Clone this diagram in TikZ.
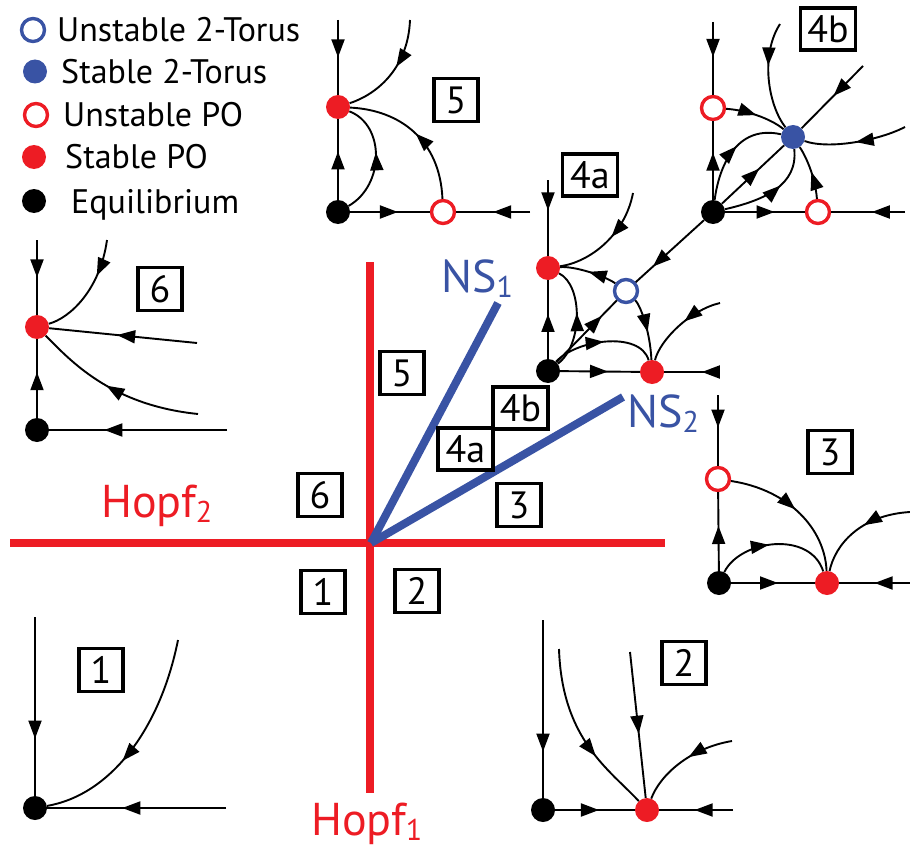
\documentclass[tikz,border=0pt]{standalone}
\usepackage{fontspec}
\setmainfont{PT Sans}
\usetikzlibrary{decorations.markings,arrows.meta}
\definecolor{hred}{RGB}{237,28,36}
\definecolor{nsblue}{RGB}{57,83,164}
\begin{document}
\begin{tikzpicture}[x=1pt,y=-1pt,
 >={Triangle[length=18pt,width=13pt]},
 traj/.style={line width=1.9pt,black},
 ma/.style={postaction={decorate},decoration={markings,mark=at position #1 with {\arrow{>}}}},
 eqpt/.style={circle,fill=black,minimum size=24pt,inner sep=0},
 spo/.style={circle,fill=hred,minimum size=24pt,inner sep=0},
 upo/.style={circle,draw=hred,line width=3.4pt,fill=white,minimum size=23pt,inner sep=0},
 stor/.style={circle,fill=nsblue,minimum size=24pt,inner sep=0},
 utor/.style={circle,draw=nsblue,line width=3.4pt,fill=white,minimum size=23pt,inner sep=0},
 rbox/.style={draw,line width=3.2pt,minimum width=44pt,minimum height=43pt,inner sep=0,font=\fontsize{38}{38}\selectfont},
 wbox/.style={rbox,minimum width=55pt,minimum height=42pt},
 leg/.style={anchor=base west,inner sep=0,font=\fontsize{34}{34}\selectfont},
 big/.style={anchor=base west,inner sep=0,font=\fontsize{46}{46}\selectfont},
]
\useasboundingbox (0,0) rectangle (910,848);

% ---------- Legend ----------
\node[utor] (lg1) at (33,30) {};
\node[leg] (lt1) at (57,42) {Unstable 2-Torus};
\node[stor] (lg2) at (35,71.5) {};
\node[leg] (lt2) at (61,84) {Stable 2-Torus};
\node[upo] (lg3) at (36,115) {};
\node[leg] (lt3) at (63,127) {Unstable PO};
\node[spo] (lg4) at (34,157) {};
\node[leg] (lt4) at (65,168) {Stable PO};
\node[eqpt] (lg5) at (34,201) {};
\node[leg] (lt5) at (71,213) {Equilibrium};

% ---------- Central bifurcation diagram ----------
\coordinate (O) at (371,543);
\coordinate (h1t) at (370,262);
\coordinate (h1b) at (370,793);
\coordinate (h2l) at (10,543);
\coordinate (h2r) at (665,543);
\coordinate (ns1e) at (498,303);
\coordinate (ns2e) at (623,397);
\draw[hred,line width=8pt] (h1t) -- (h1b);
\draw[hred,line width=8pt] (h2l) -- (h2r);
\draw[nsblue,line width=8pt] (O) -- (ns1e);
\draw[nsblue,line width=8pt] (O) -- (ns2e);
\node[big,text=nsblue] (ns1) at (441,292) {NS\raisebox{-5pt}{\fontsize{30}{30}\selectfont 1}};
\node[big,text=nsblue] (ns2) at (627,427) {NS\raisebox{-5pt}{\fontsize{30}{30}\selectfont 2}};
\node[big,text=hred] (hopf2) at (101,517) {Hopf\raisebox{-5pt}{\fontsize{30}{30}\selectfont 2}};
\node[big,text=hred] (hopf1) at (311,835) {Hopf\raisebox{-5pt}{\fontsize{30}{30}\selectfont 1}};
\node[rbox] (bx5) at (402,373) {5};
\node[wbox] (bx4b) at (520.5,408) {4b};
\node[wbox] (bx4a) at (465.5,449) {4a};
\node[rbox] (bx6) at (320,495) {6};
\node[rbox] (bx3) at (519,505) {3};
\node[rbox] (bx1) at (323,592) {1};
\node[rbox] (bx2) at (417,591) {2};

% ---------- Panel 5 ----------
\node[eqpt] (b5) at (338,212) {};
\node[spo] (s5) at (338,107) {};
\node[upo] (u5) at (443,212) {};
\coordinate (t5) at (338,20);
\coordinate (r5) at (530,212);
\coordinate (c5) at (410,20);
\draw[traj,ma=0.5] (t5) -- (s5);
\draw[traj,ma=0.6] (b5) -- (s5);
\draw[traj,ma=0.6] (b5) -- (u5);
\draw[traj,ma=0.5] (r5) -- (u5);
\draw[traj,ma=0.45] (c5) .. controls (408,70) and (375,95) .. (s5);
\draw[traj,ma=0.55] (b5) .. controls (385,185) and (385,125) .. (s5);
\draw[traj,ma=0.5] (u5) .. controls (440,140) and (400,110) .. (s5);
\node[rbox] (bx5p) at (456,100) {5};

% ---------- Panel 4b ----------
\node[eqpt] (b4b) at (713,212) {};
\node[upo] (ov4b) at (713,108) {};
\node[upo] (oh4b) at (818,212) {};
\node[stor] (t4b) at (793,137) {};
\coordinate (tv4b) at (713,22);
\coordinate (rh4b) at (905,212);
\coordinate (d4b) at (863,66);
\coordinate (c4b) at (780,24);
\coordinate (rc4b) at (905,127);
\draw[traj,ma=0.48] (tv4b) -- (ov4b);
\draw[traj,ma=0.6] (b4b) -- (ov4b);
\draw[traj,ma=0.62] (b4b) -- (oh4b);
\draw[traj,ma=0.45] (rh4b) -- (oh4b);
\draw[traj,ma=0.48] (d4b) -- (t4b);
\draw[traj,ma=0.6] (b4b) -- (t4b);
\draw[traj,ma=0.4] (c4b) .. controls (760,55) and (768,105) .. (t4b);
\draw[traj,ma=0.5] (ov4b) .. controls (745,110) and (770,118) .. (t4b);
\draw[traj,ma=0.5] (rc4b) .. controls (880,140) and (830,150) .. (t4b);
\draw[traj,ma=0.55] (b4b) .. controls (720,160) and (740,125) .. (t4b);
\draw[traj,ma=0.6] (b4b) .. controls (765,200) and (798,185) .. (t4b);
\draw[traj,ma=0.5] (oh4b) .. controls (815,175) and (805,155) .. (t4b);
\node[wbox] (bx4bp) at (828,29) {4b};

% ---------- Panel 4a ----------
\node[eqpt] (b4a) at (548,371) {};
\node[spo] (sv4a) at (548,268) {};
\node[spo] (sh4a) at (652,372) {};
\node[utor] (u4a) at (626,291) {};
\coordinate (tv4a) at (548,180);
\coordinate (rh4a) at (718,372);
\coordinate (c4a) at (633,193);
\coordinate (rc4a) at (720,303);
\draw[traj,ma=0.75] (b4b) -- (u4a);
\draw[traj,ma=0.4] (tv4a) -- (sv4a);
\draw[traj,ma=0.57] (b4a) -- (sv4a);
\draw[traj,ma=0.6] (b4a) -- (sh4a);
\draw[traj,ma=0.3] (rh4a) -- (sh4a);
\draw[traj,ma=0.45] (c4a) .. controls (625,235) and (590,262) .. (sv4a);
\draw[traj,ma=0.5] (u4a) .. controls (605,276) and (575,266) .. (sv4a);
\draw[traj,ma=0.55] (b4a) .. controls (583,345) and (583,285) .. (sv4a);
\draw[traj,ma=0.75] (b4a) -- (u4a);
\draw[traj,ma=0.5] (b4a) .. controls (575,340) and (640,330) .. (sh4a);
\draw[traj,ma=0.55] (u4a) .. controls (640,305) and (650,330) .. (sh4a);
\draw[traj,ma=0.45] (rc4a) .. controls (690,310) and (660,340) .. (sh4a);
\node[wbox] (bx4ap) at (590,175) {4a};

% ---------- Panel 6 ----------
\node[eqpt] (b6) at (37,430) {};
\node[spo] (s6) at (37,327) {};
\coordinate (t6) at (37,240);
\coordinate (r6) at (227,430);
\coordinate (c6) at (107,240);
\coordinate (l6) at (197,343);
\coordinate (s6c) at (198,414);
\draw[traj,ma=0.5] (t6) -- (s6);
\draw[traj,ma=0.58] (b6) -- (s6);
\draw[traj,ma=0.69] (r6) -- (b6);
\draw[traj,ma=0.35] (c6) .. controls (100,290) and (70,318) .. (s6);
\draw[traj,ma=0.54] (l6) -- (s6);
\draw[traj,ma=0.55] (s6c) .. controls (110,405) and (70,360) .. (s6);
\node[rbox] (bx6p) at (160,289) {6};

% ---------- Panel 3 ----------
\node[eqpt] (b3) at (719,583) {};
\node[upo] (o3) at (718,479) {};
\node[spo] (s3) at (827,583) {};
\coordinate (t3) at (718,395);
\coordinate (r3) at (910,583);
\coordinate (rc3) at (910,512);
\draw[traj,ma=0.46] (t3) -- (o3);
\draw[traj,ma=0.57] (b3) -- (o3);
\draw[traj,ma=0.56] (b3) -- (s3);
\draw[traj,ma=0.5] (r3) -- (s3);
\draw[traj,ma=0.5] (o3) .. controls (790,490) and (825,530) .. (s3);
\draw[traj,ma=0.45] (b3) .. controls (740,540) and (810,530) .. (s3);
\draw[traj,ma=0.45] (rc3) .. controls (860,515) and (835,545) .. (s3);
\node[rbox] (bx3p) at (830,452) {3};

% ---------- Panel 1 ----------
\node[eqpt] (b1) at (35,808) {};
\coordinate (t1) at (35,617);
\coordinate (r1) at (226,808);
\coordinate (c1) at (178,640);
\draw[traj,ma=0.68] (t1) -- (b1);
\draw[traj,ma=0.58] (r1) -- (b1);
\draw[traj,ma=0.6] (c1) .. controls (160,730) and (110,795) .. (b1);
\node[rbox] (bx1p) at (101,670) {1};

% ---------- Panel 2 ----------
\node[eqpt] (b2) at (543,810) {};
\node[spo] (s2) at (647,810) {};
\coordinate (t2) at (543,620);
\coordinate (r2) at (733,810);
\coordinate (c2a) at (559,649);
\coordinate (c2b) at (630,652);
\coordinate (c2c) at (732,741);
\draw[traj,ma=0.74] (t2) -- (b2);
\draw[traj,ma=0.55] (b2) -- (s2);
\draw[traj,ma=0.52] (r2) -- (s2);
\draw[traj,ma=0.65] (c2a) .. controls (562,740) and (610,770) .. (s2);
\draw[traj,ma=0.56] (c2b) -- (s2);
\draw[traj,ma=0.45] (c2c) .. controls (690,748) and (660,775) .. (s2);
\node[rbox] (bx2p) at (684,663) {2};
\end{tikzpicture}
\end{document}
